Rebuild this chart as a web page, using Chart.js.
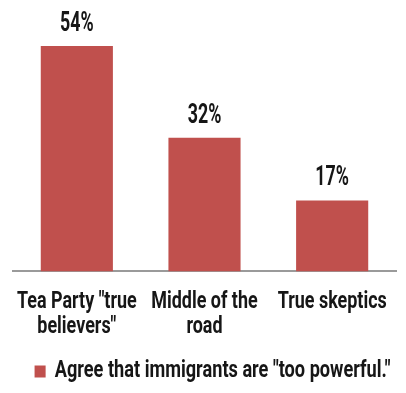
<!DOCTYPE html>
<html>
<head>
<meta charset="utf-8">
<script src="https://cdn.jsdelivr.net/npm/chart.js@4/dist/chart.umd.min.js"></script>
<style>
html,body{margin:0;padding:0;background:#fff;overflow:hidden;}
#wrap{width:406px;height:393px;position:relative;}
</style>
</head>
<body>
<div id="wrap"><canvas id="c" width="406" height="393"></canvas></div>
<script>
const categories = [["Tea Party \"true", "believers\""], ["Middle of the", "road"], "True skeptics"];
const seriesName = "Agree that immigrants are \"too powerful.\"";
const values = [54, 32, 17];
const valueLabels = ["54%", "32%", "17%"];

const FONT = "Roboto, 'DejaVu Sans Condensed', sans-serif";
const RED = "#C0504D";
const INK = "#161616";
const K_TICK = 0.78, K_LEGEND = 0.79, K_VALUE = 0.66;

// draw text horizontally condensed (the reference uses a condensed typeface)
function condensedText(ctx, k, fn) {
  const orig = CanvasRenderingContext2D.prototype.fillText;
  ctx.fillText = function (t, x, y, mw) {
    this.save();
    this.translate(x, y);
    this.scale(k, 1);
    orig.call(this, t, 0, 0);
    this.restore();
  };
  try { fn(); } finally { delete ctx.fillText; }
}

const condensePlugin = {
  id: 'condense',
  beforeDraw(chart) {
    const xs = chart.scales.x;
    if (xs && !xs._condensed) {
      const origLabels = xs.drawLabels;
      xs.drawLabels = function (area) {
        condensedText(chart.ctx, K_TICK, () => origLabels.call(this, area));
      };
      xs._condensed = true;
    }
    const lg = chart.legend;
    if (lg && !lg._condensed) {
      const origDraw = lg.draw;
      lg.draw = function () {
        const ctx = chart.ctx;
        const cx = (this.left + this.right) / 2;
        ctx.save();
        ctx.translate(cx + 8, 0);
        ctx.scale(K_LEGEND, 1);
        ctx.translate(-cx, 0);
        ctx.clip = function () {};
        try { origDraw.call(this); } finally { delete ctx.clip; }
        ctx.restore();
      };
      lg._condensed = true;
    }
  },
  afterDatasetsDraw(chart) {
    const ctx = chart.ctx;
    const meta = chart.getDatasetMeta(0);
    ctx.save();
    ctx.font = "bold 27px " + FONT;
    ctx.fillStyle = INK;
    ctx.textAlign = "center";
    ctx.textBaseline = "alphabetic";
    meta.data.forEach((bar, i) => {
      ctx.save();
      ctx.translate(bar.x, bar.y - 15);
      ctx.scale(K_VALUE, 1);
      ctx.fillText(valueLabels[i], 0, 0);
      ctx.restore();
    });
    ctx.restore();
  }
};

new Chart(document.getElementById('c'), {
  type: 'bar',
  data: {
    labels: categories,
    datasets: [{
      label: seriesName,
      data: values,
      backgroundColor: RED,
      borderWidth: 0,
      barPercentage: 0.565,
      categoryPercentage: 1.0
    }]
  },
  options: {
    responsive: false,
    animation: false,
    devicePixelRatio: 1,
    layout: { padding: { left: 13, right: 10, top: 21, bottom: 0 } },
    scales: {
      x: {
        grid: { display: false },
        border: { display: true, color: '#9a9a9a', width: 2 },
        ticks: {
          color: INK,
          padding: 10,
          maxRotation: 0,
          autoSkip: false,
          font: { family: FONT, size: 23, weight: 'bold', lineHeight: 1.1 }
        },
        afterFit(scale) {
          scale.paddingLeft = 0;
          scale.paddingRight = 0;
          scale.height += 6;
        }
      },
      y: {
        display: false,
        min: 0,
        max: 60
      }
    },
    plugins: {
      legend: {
        position: 'bottom',
        labels: {
          color: INK,
          boxWidth: 14,
          boxHeight: 12,
          padding: 4,
          font: { family: FONT, size: 23, weight: 'bold' }
        }
      },
      tooltip: { enabled: false }
    }
  },
  plugins: [condensePlugin]
});
</script>
</body>
</html>
